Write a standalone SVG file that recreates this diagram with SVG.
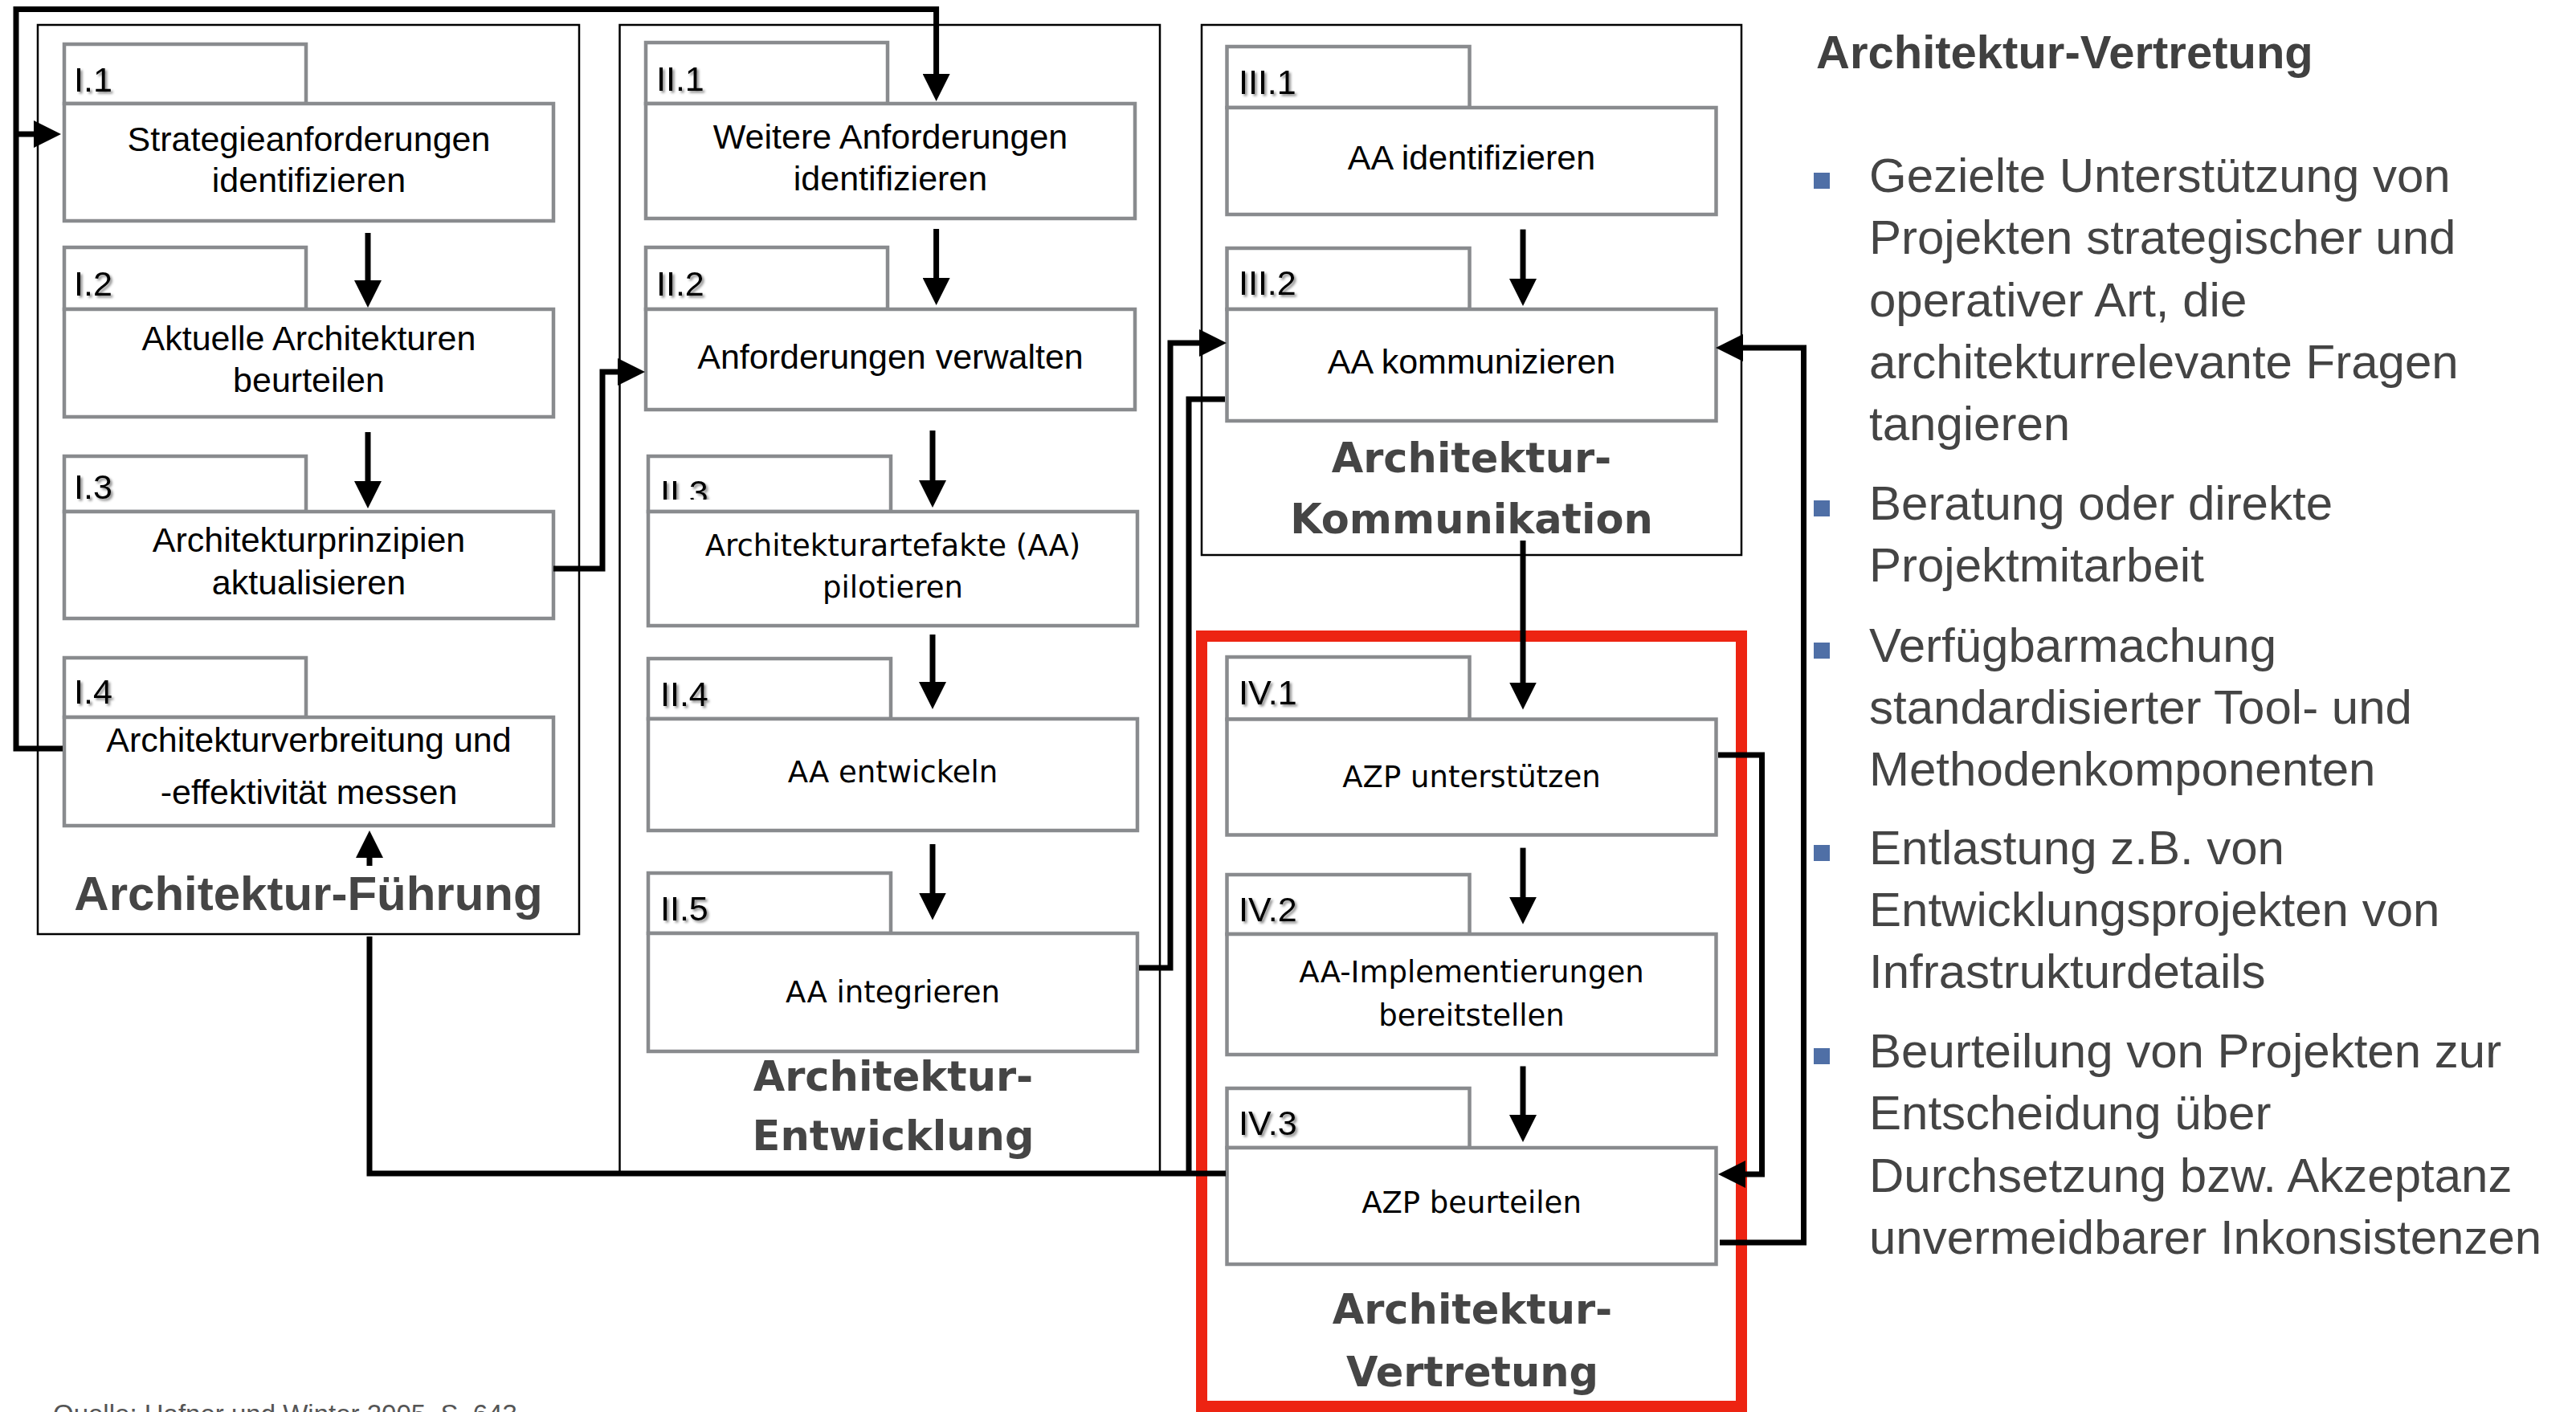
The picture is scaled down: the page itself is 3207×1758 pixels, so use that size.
<svg xmlns="http://www.w3.org/2000/svg" width="3207" height="1758" viewBox="0 0 3207 1758">
  <defs>
    <style>
      .cont{fill:#fff;stroke:#000;stroke-width:2.5}
      .red{fill:none;stroke:#ed2412;stroke-width:14}
      .tab,.box{fill:#fff;stroke:#898b8e;stroke-width:4.5}
      .lbl{font-family:"Liberation Sans",Arial,sans-serif;font-size:43px;fill:#000;filter:url(#sh)}
      .t1{font-family:"Liberation Sans",Arial,sans-serif;font-size:43px;fill:#000;text-anchor:middle}
      .t2{font-family:"DejaVu Sans",Verdana,sans-serif;font-size:37px;fill:#000;text-anchor:middle}
      .h1{font-family:"Liberation Sans",Arial,sans-serif;font-weight:bold;font-size:60px;fill:#454545;text-anchor:middle}
      .h2{font-family:"DejaVu Sans",Verdana,sans-serif;font-weight:bold;font-size:51px;fill:#454545;text-anchor:middle}
      .con{fill:none;stroke:#000;stroke-width:7;stroke-linejoin:miter}
      .arr{marker-end:url(#ah)}
      .side{font-family:"Liberation Sans",Arial,sans-serif;font-size:60px;fill:#444}
      .sideh{font-family:"Liberation Sans",Arial,sans-serif;font-weight:bold;font-size:58px;fill:#404040}
      .bul{fill:#4f6fa6}
      .src{font-family:"Liberation Sans",Arial,sans-serif;font-size:33px;fill:#555}
    </style>
    <marker id="ah" markerUnits="userSpaceOnUse" markerWidth="34" markerHeight="34" refX="22" refY="17" orient="auto">
      <path d="M0,0 L34,17 L0,34 z" fill="#000"/>
    </marker>
    <filter id="sh" x="-20%" y="-30%" width="150%" height="170%">
      <feDropShadow dx="2.5" dy="2.5" stdDeviation="1.5" flood-color="#000" flood-opacity="0.45"/>
    </filter>
    <clipPath id="clipII3">
      <rect x="800" y="560" width="320" height="62"/>
    </clipPath>
  </defs>

  <rect width="3207" height="1758" fill="#fff"/>

  <!-- process areas -->
  <g id="area-fuehrung">
    <rect class="cont" x="47" y="31" width="674" height="1132"/>
    <text class="h1" x="384" y="1133">Architektur-Führung</text>
  </g>
  <g id="area-entwicklung">
    <rect class="cont" x="771.5" y="31" width="672.5" height="1429"/>
    <text class="h2" x="1112" y="1358">Architektur-</text>
    <text class="h2" x="1112" y="1432">Entwicklung</text>
  </g>
  <g id="area-kommunikation">
    <rect class="cont" x="1496" y="31" width="672" height="660"/>
    <text class="h2" x="1832" y="588">Architektur-</text>
    <text class="h2" x="1832" y="663.5">Kommunikation</text>
  </g>
  <g id="area-vertretung">
    <rect class="red" x="1496" y="792" width="672" height="959"/>
    <text class="h2" x="1833" y="1648">Architektur-</text>
    <text class="h2" x="1833" y="1725.5">Vertretung</text>
  </g>

  <!-- I: Architektur-Führung -->
  <g id="node-I1">
    <rect class="tab" x="80" y="55" width="301" height="74"/>
    <text class="lbl" x="92" y="114">I.1</text>
    <rect class="box" x="80" y="129" width="609" height="146"/>
    <text class="t1" x="384.5" y="187.5">Strategieanforderungen</text>
    <text class="t1" x="384.5" y="239">identifizieren</text>
  </g>
  <g id="node-I2">
    <rect class="tab" x="80" y="308" width="301" height="77"/>
    <text class="lbl" x="92" y="368">I.2</text>
    <rect class="box" x="80" y="385" width="609" height="134"/>
    <text class="t1" x="384.5" y="435.5">Aktuelle Architekturen</text>
    <text class="t1" x="384.5" y="488">beurteilen</text>
  </g>
  <g id="node-I3">
    <rect class="tab" x="80" y="568" width="301" height="69"/>
    <text class="lbl" x="92" y="621">I.3</text>
    <rect class="box" x="80" y="637" width="609" height="133"/>
    <text class="t1" x="384.5" y="686.5">Architekturprinzipien</text>
    <text class="t1" x="384.5" y="740">aktualisieren</text>
  </g>
  <g id="node-I4">
    <rect class="tab" x="80" y="819" width="301" height="74"/>
    <text class="lbl" x="92" y="876">I.4</text>
    <rect class="box" x="80" y="893" width="609" height="135"/>
    <text class="t1" x="384.5" y="935.5">Architekturverbreitung und</text>
    <text class="t1" x="384.5" y="1001">-effektivität messen</text>
  </g>

  <!-- II: Architektur-Entwicklung -->
  <g id="node-II1">
    <rect class="tab" x="804" y="53" width="301" height="76"/>
    <text class="lbl" x="817" y="113">II.1</text>
    <rect class="box" x="804" y="129" width="609" height="143"/>
    <text class="t1" x="1108.5" y="184.5">Weitere Anforderungen</text>
    <text class="t1" x="1108.5" y="237">identifizieren</text>
  </g>
  <g id="node-II2">
    <rect class="tab" x="804" y="308" width="301" height="77"/>
    <text class="lbl" x="817" y="368">II.2</text>
    <rect class="box" x="804" y="385" width="609" height="125"/>
    <text class="t1" x="1108.5" y="458.5">Anforderungen verwalten</text>
  </g>
  <g id="node-II3">
    <rect class="tab" x="807" y="568" width="302" height="69"/>
    <text class="lbl" x="822" y="628" clip-path="url(#clipII3)">II.3</text>
    <rect class="box" x="807" y="637" width="609" height="142"/>
    <text class="t2" x="1111.5" y="692">Architekturartefakte (AA)</text>
    <text class="t2" x="1111.5" y="744">pilotieren</text>
  </g>
  <g id="node-II4">
    <rect class="tab" x="807" y="820" width="302" height="75"/>
    <text class="lbl" x="822" y="879">II.4</text>
    <rect class="box" x="807" y="895" width="609" height="139"/>
    <text class="t2" x="1111.5" y="974">AA entwickeln</text>
  </g>
  <g id="node-II5">
    <rect class="tab" x="807" y="1087" width="302" height="75"/>
    <text class="lbl" x="822" y="1146">II.5</text>
    <rect class="box" x="807" y="1162" width="609" height="147"/>
    <text class="t2" x="1111.5" y="1248">AA integrieren</text>
  </g>

  <!-- III: Architektur-Kommunikation -->
  <g id="node-III1">
    <rect class="tab" x="1527.5" y="58" width="302" height="76"/>
    <text class="lbl" x="1542" y="117">III.1</text>
    <rect class="box" x="1527.5" y="134" width="609" height="133"/>
    <text class="t1" x="1832" y="211">AA identifizieren</text>
  </g>
  <g id="node-III2">
    <rect class="tab" x="1527.5" y="309" width="302" height="76"/>
    <text class="lbl" x="1542" y="367">III.2</text>
    <rect class="box" x="1527.5" y="385" width="609" height="139"/>
    <text class="t1" x="1832" y="465">AA kommunizieren</text>
  </g>

  <!-- IV: Architektur-Vertretung -->
  <g id="node-IV1">
    <rect class="tab" x="1527.5" y="818" width="302" height="77.5"/>
    <text class="lbl" x="1542" y="877">IV.1</text>
    <rect class="box" x="1527.5" y="895.5" width="609" height="144"/>
    <text class="t2" x="1832" y="980">AZP unterstützen</text>
  </g>
  <g id="node-IV2">
    <rect class="tab" x="1527.5" y="1089" width="302" height="74"/>
    <text class="lbl" x="1542" y="1147">IV.2</text>
    <rect class="box" x="1527.5" y="1163" width="609" height="150"/>
    <text class="t2" x="1832" y="1223">AA-Implementierungen</text>
    <text class="t2" x="1832" y="1277">bereitstellen</text>
  </g>
  <g id="node-IV3">
    <rect class="tab" x="1527.5" y="1355" width="302" height="74"/>
    <text class="lbl" x="1542" y="1413">IV.3</text>
    <rect class="box" x="1527.5" y="1429" width="609" height="145"/>
    <text class="t2" x="1832" y="1509.5">AZP beurteilen</text>
  </g>

  <!-- connectors -->
  <g id="connectors">
    <path class="con arr" d="M78,932 H20 V11.5 H1165.6 V114"/>
    <path class="con arr" d="M20,167 H64"/>
    <path class="con arr" d="M458,290 V371"/>
    <path class="con arr" d="M458,538 V621"/>
    <path class="con arr" d="M689,708 H750 V463 H791"/>
    <path class="con arr" d="M1526,1461 H460 V1166 M460,1078 V1046"/>
    <path class="con" d="M1525,497 H1480 V1461"/>
    <path class="con arr" d="M1165.6,285 V368"/>
    <path class="con arr" d="M1161,536 V620"/>
    <path class="con arr" d="M1161,790 V871"/>
    <path class="con arr" d="M1161,1051 V1133.5"/>
    <path class="con arr" d="M1418,1205 H1457 V427 H1515"/>
    <path class="con arr" d="M1896,285.6 V369"/>
    <path class="con arr" d="M1896,673 V871.5"/>
    <path class="con arr" d="M1896,1055.6 V1138.7"/>
    <path class="con arr" d="M1896,1327.5 V1410"/>
    <path class="con arr" d="M2139,940 H2193.5 V1462 H2151"/>
    <path class="con arr" d="M2141,1547 H2245.5 V433 H2148"/>
  </g>

  <!-- side panel -->
  <g id="side-panel">
    <text class="sideh" x="2261" y="85">Architektur-Vertretung</text>
    <rect class="bul" x="2258" y="215" width="20" height="20"/>
    <text class="side" x="2327" y="239">Gezielte Unterstützung von</text>
    <text class="side" x="2327" y="316">Projekten strategischer und</text>
    <text class="side" x="2327" y="394">operativer Art, die</text>
    <text class="side" x="2327" y="471">architekturrelevante Fragen</text>
    <text class="side" x="2327" y="548">tangieren</text>
    <rect class="bul" x="2258" y="623" width="20" height="20"/>
    <text class="side" x="2327" y="647">Beratung oder direkte</text>
    <text class="side" x="2327" y="724">Projektmitarbeit</text>
    <rect class="bul" x="2258" y="800" width="20" height="20"/>
    <text class="side" x="2327" y="824">Verfügbarmachung</text>
    <text class="side" x="2327" y="901">standardisierter Tool- und</text>
    <text class="side" x="2327" y="978">Methodenkomponenten</text>
    <rect class="bul" x="2258" y="1052" width="20" height="20"/>
    <text class="side" x="2327" y="1076">Entlastung z.B. von</text>
    <text class="side" x="2327" y="1153">Entwicklungsprojekten von</text>
    <text class="side" x="2327" y="1230">Infrastrukturdetails</text>
    <rect class="bul" x="2258" y="1305" width="20" height="20"/>
    <text class="side" x="2327" y="1329">Beurteilung von Projekten zur</text>
    <text class="side" x="2327" y="1406">Entscheidung über</text>
    <text class="side" x="2327" y="1484">Durchsetzung bzw. Akzeptanz</text>
    <text class="side" x="2327" y="1561">unvermeidbarer Inkonsistenzen</text>
  </g>

  <text class="src" x="66" y="1772">Quelle: Hafner und Winter 2005, S. 643</text>
</svg>
